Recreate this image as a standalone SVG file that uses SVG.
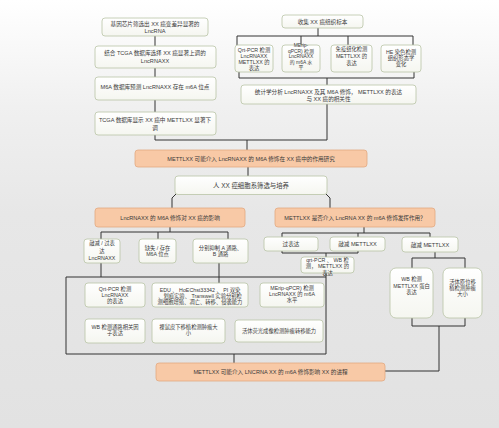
<svg xmlns="http://www.w3.org/2000/svg" width="499" height="428" viewBox="0 0 499 428">
<defs>
<linearGradient id="bg" x1="0" y1="0" x2="0" y2="1">
<stop offset="0" stop-color="#ffffff"/>
<stop offset="0.25" stop-color="#f0f0f0"/>
<stop offset="0.5" stop-color="#e7e7e7"/>
<stop offset="1" stop-color="#e2e2e2"/>
</linearGradient>
<linearGradient id="wb" x1="0" y1="0" x2="0" y2="1">
<stop offset="0" stop-color="#ffffff"/>
<stop offset="1" stop-color="#f5f6f0"/>
</linearGradient>
<style>
.w{fill:url(#wb);stroke:#b9c4a6;stroke-width:0.8}
.o{fill:#f8c9a6;stroke:#e2aa82;stroke-width:0.8}
text{font-family:"Liberation Sans","Noto Sans CJK SC",sans-serif;font-size:5.3px;fill:#3a3a3a;text-anchor:middle}
.big{font-size:6.4px}
.m{font-size:5.6px}
.t{font-size:4.9px}
.c path{stroke:#333;stroke-width:1;fill:none}
</style>
</defs>
<rect width="499" height="428" fill="url(#bg)"/>
<g class="c" id="connectors">
<path d="M155,36V46M155,68V77M155,100V112M155,135V140H327V104M247,140V150"/>
<path d="M318,28V36M237,36H413M237,36V45M301,36V45M348,36V45M413,36V45"/>
<path d="M239,72V78M414,72V78M239,78H414M327,78V85"/>
<path d="M248,167V176M176,194L172,198V208M326,194L330,198V208"/>
<path d="M170,227V232M101,232H228M101,232V239M158,232V239M228,232V239"/>
<path d="M101,263V277M219,263V283M66,277H326M66,277V354H326V273M234,354V363"/>
<path d="M364,227V233M282,233H430M282,233V237M358,233V237M430,233V237"/>
<path d="M282,251V253H358V251M326,253V257"/>
<path d="M435,252V258M412,258H465M412,258V268M465,258V268"/>
<path d="M412,318V326H465V318M439,326V371H385"/>
</g>
<g id="n1"><rect class="w" x="102" y="18" width="106" height="18" rx="3"/><text class="m" x="155" y="25.5">基因芯片筛选出 XX 癌变差异显著的</text><text class="m" x="155" y="33">LncRNA</text></g>
<g id="n2"><rect class="w" x="95" y="46" width="121" height="22" rx="3"/><text class="m" x="155" y="55">结合 TCGA 数据库选择 XX 癌显著上调的</text><text class="m" x="155" y="63">LncRNAXX</text></g>
<g id="n3"><rect class="w" x="95" y="77" width="121" height="23" rx="3"/><text class="m" x="155" y="88.5">M6A 数据库预测 LncRNAXX 存在 m6A 位点</text></g>
<g id="n4"><rect class="w" x="95" y="112" width="121" height="23" rx="3"/><text class="m" x="155" y="122">TCGA 数据库显示 XX 癌中 METTLXX 显著下</text><text class="m" x="155" y="130">调</text></g>
<g id="n5"><rect class="w" x="282" y="15" width="81" height="13" rx="3"/><text class="m" x="322.5" y="23.5">收集 XX 癌组织标本</text></g>
<g id="n6"><rect class="w" x="235" y="45" width="38" height="27" rx="3"/><text x="254" y="51.5">Qrt-PCR 检测</text><text x="254" y="57.5">LncRNAXX</text><text x="254" y="63.5">METTLXX 的</text><text x="254" y="69.5">表达</text></g>
<g id="n7"><rect class="w" x="282" y="45" width="38" height="27" rx="3"/><text class="t" x="301" y="47">MErip-</text><text class="t" x="301" y="52.6">qPCR) 检测</text><text class="t" x="301" y="58.2">LncRNAXX</text><text class="t" x="301" y="63.8">的 m6A 水</text><text class="t" x="301" y="69.4">平</text></g>
<g id="n8"><rect class="w" x="331" y="45" width="41" height="27" rx="3"/><text x="351.5" y="51">免疫组化检测</text><text x="351.5" y="58">METTLXX 的</text><text x="351.5" y="65">表达</text></g>
<g id="n9"><rect class="w" x="381" y="45" width="40" height="27" rx="3"/><text x="401" y="54">HE 染色检测</text><text x="401" y="60">组织形态学</text><text x="401" y="66">变化</text></g>
<g id="n10"><rect class="w" x="241" y="85" width="175" height="19" rx="3"/><text class="m" x="328.5" y="93.5">统计学分析 LncRNAXX 及其 M6A 修饰， METTLXX 的表达</text><text class="m" x="328.5" y="100.5">与 XX 癌的相关性</text></g>
<g id="n11"><rect class="o" x="135" y="150" width="232" height="17" rx="3"/><text class="m" x="251" y="160.5">METTLXX 可能介入 LncRNAXX 的 M6A 修饰在 XX 癌中的作用研究</text></g>
<g id="n12"><rect class="w" x="175" y="176" width="152" height="18.5" rx="3"/><text class="big" x="251" y="188">人 XX 癌细胞系筛选与培养</text></g>
<g id="n13"><rect class="o" x="95" y="208" width="150" height="19" rx="3"/><text class="m" x="170" y="219.5">LncRNAXX 的 M6A 修饰对 XX 癌的影响</text></g>
<g id="n14"><rect class="o" x="275" y="208" width="160" height="19" rx="3"/><text class="m" x="355" y="219.5">METTLXX 是否介入 LncRNA XX 的 m6A 修饰发挥作用？</text></g>
<g id="n15"><rect class="w" x="84" y="239" width="36" height="24" rx="3"/><text x="102" y="245">敲减 / 过表</text><text x="102" y="252.5">达</text><text x="102" y="260">LncRNAXX</text></g>
<g id="n16"><rect class="w" x="139" y="239" width="37" height="24" rx="3"/><text x="157.5" y="249.5">缺失 / 存在</text><text x="157.5" y="256">M6A 位点</text></g>
<g id="n17"><rect class="w" x="193" y="239" width="55" height="24" rx="3"/><text x="220.5" y="249.5">分别抑制 A 通路、</text><text x="220.5" y="256">B 通路</text></g>
<g id="n18"><rect class="w" x="85" y="283" width="60" height="24" rx="3"/><text x="115" y="291">Qrt-PCR 检测</text><text x="115" y="297">LncRNAXX</text><text x="115" y="303">的表达</text></g>
<g id="n19"><rect class="w" x="152" y="283" width="96" height="24" rx="3"/><text x="200" y="291.5">EDU 、 HoEChst33342 、 PI 双染</text><text x="200" y="297.5">、划痕实验、 Transwell 实验分别检</text><text x="200" y="303.5">测细胞增殖、凋亡、转移、侵袭能力</text></g>
<g id="n20"><rect class="w" x="260" y="283" width="64" height="24" rx="3"/><text x="292" y="290">MErip-qPCR) 检测</text><text x="292" y="296">LncRNAXX 的 m6A</text><text x="292" y="302">水平</text></g>
<g id="n21"><rect class="w" x="85" y="319" width="60" height="24" rx="3"/><text x="115" y="329">WB 检测通路相关因</text><text x="115" y="335">子表达</text></g>
<g id="n22"><rect class="w" x="152" y="319" width="73" height="24" rx="3"/><text x="188.5" y="329">裸鼠皮下移植检测肿瘤大</text><text x="188.5" y="335">小</text></g>
<g id="n23"><rect class="w" x="235" y="320" width="88" height="22" rx="3"/><text x="279" y="333">活体荧光成像检测肿瘤转移能力</text></g>
<g id="n24"><rect class="w" x="264" y="237" width="54" height="14" rx="3"/><text class="m" x="291" y="246">过表达</text></g>
<g id="n25"><rect class="w" x="330" y="237" width="55" height="14" rx="3"/><text class="m" x="357.5" y="246">敲减 METTLXX</text></g>
<g id="n26"><rect class="w" x="402" y="237" width="56" height="15" rx="3"/><text class="m" x="430" y="246.5">敲减 METTLXX</text></g>
<g id="n27"><rect class="w" x="301" y="257" width="53" height="16" rx="3"/><text x="327.5" y="261.5">qrt-PCR 、 WB 检</text><text x="327.5" y="268">测， METTLXX 的</text><text x="327.5" y="275">表达</text></g>
<g id="n28"><rect class="w" x="390" y="268" width="43" height="50" rx="6"/><text x="411.5" y="281">WB 检测</text><text x="411.5" y="287.5">METTLXX 蛋白</text><text x="411.5" y="294">表达</text></g>
<g id="n29"><rect class="w" x="443" y="268" width="39" height="50" rx="6"/><text x="462.5" y="284">活体原位移</text><text x="462.5" y="290">植检测肿瘤</text><text x="462.5" y="296">大小</text></g>
<g id="n30"><rect class="o" x="156" y="363" width="229" height="18" rx="3"/><text class="m" x="270.5" y="374">METTLXX 可能介入 LNCRNA XX 的 m6A 修饰影响 XX 的进程</text></g>
</svg>
